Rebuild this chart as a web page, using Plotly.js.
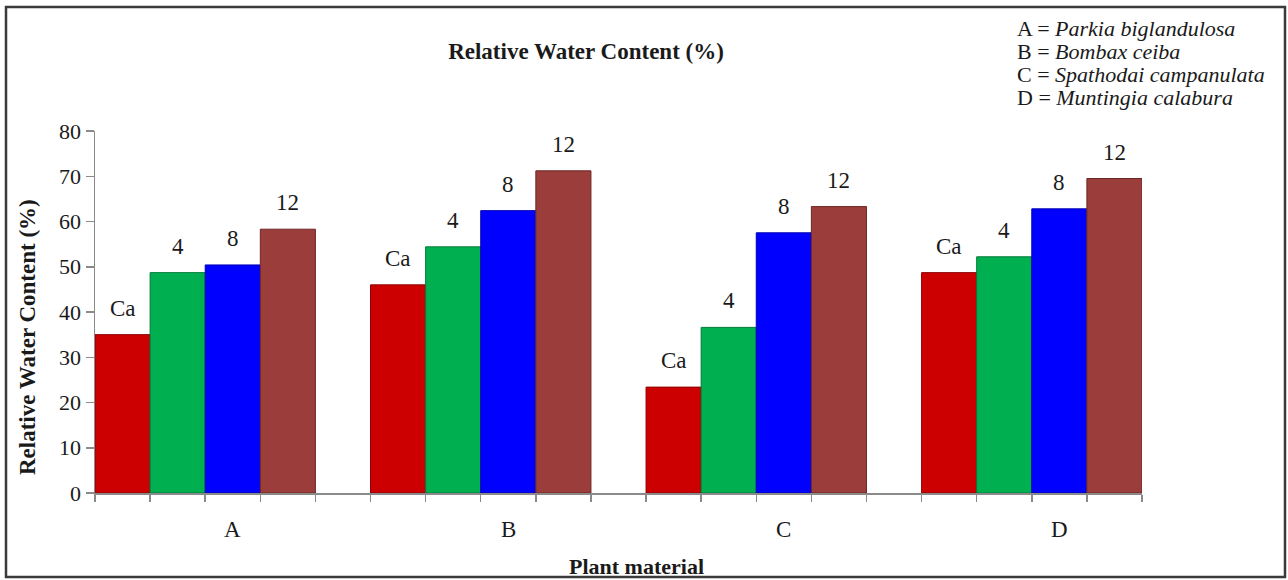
<!DOCTYPE html>
<html>
<head>
<meta charset="utf-8">
<script src="https://cdn.plot.ly/plotly-3.0.1.min.js"></script>
<style>
  html, body { margin: 0; padding: 0; background: #ffffff; }
  #chart { width: 1288px; height: 580px; }
</style>
</head>
<body>
<div id="chart"></div>
<script>
// Plant materials (x groups) and the treatment series drawn in each group
const groups = ['A', 'B', 'C', 'D'];
const seriesNames = ['Ca', '4', '8', '12'];
const caValues = [35.0, 46.0, 23.4, 48.7];
const t4Values = [48.7, 54.4, 36.6, 52.2];
const t8Values = [50.4, 62.4, 57.5, 62.8];
const t12Values = [58.3, 71.2, 63.3, 69.5];
const seriesColors = ['#CC0000', '#00B050', '#0000FF', '#9B3D3A'];
const edgeColors = ['#8E0000', '#007A38', '#0000B0', '#6B2826'];
const speciesNames = ['Parkia biglandulosa', 'Bombax ceiba', 'Spathodai campanulata', 'Muntingia calabura'];
const yTicks = [0, 10, 20, 30, 40, 50, 60, 70, 80];

const seriesValues = [caValues, t4Values, t8Values, t12Values];
const serif = 'Liberation Serif, Times New Roman, serif';
const ink = '#1a1a1a';
const axisGrey = '#8a8a8a';

// each group takes 4 bar slots plus one empty slot before the next group
const slotsPerGroup = seriesNames.length + 1;
const barX = (g, s) => g * slotsPerGroup + s + 0.5;

const traces = seriesNames.map((name, s) => ({
  type: 'bar',
  name: name,
  x: groups.map((_, g) => barX(g, s)),
  y: seriesValues[s],
  width: 1,
  marker: { color: seriesColors[s], line: { color: edgeColors[s], width: 1 } },
  hoverinfo: 'y+name',
  showlegend: false
}));

const annotations = [];

// series name above every bar
seriesNames.forEach((name, s) => {
  groups.forEach((_, g) => {
    annotations.push({
      x: barX(g, s), y: seriesValues[s][g], xref: 'x', yref: 'y',
      text: name, showarrow: false, yanchor: 'bottom', yshift: 12,
      font: { family: serif, size: 23, color: ink }
    });
  });
});

// group labels under the axis
groups.forEach((lab, g) => {
  annotations.push({
    x: g * slotsPerGroup + 2.5, y: -0.102, xref: 'x', yref: 'paper',
    text: lab, showarrow: false, xanchor: 'center', yanchor: 'middle',
    font: { family: serif, size: 23, color: ink }
  });
});

// key of plant material letters
speciesNames.forEach((sp, i) => {
  annotations.push({
    x: 0.8787, y: (493 - (29 + i * 22.7)) / 362, xref: 'paper', yref: 'paper',
    text: groups[i] + ' = <i>' + sp + '</i>', showarrow: false,
    xanchor: 'left', yanchor: 'middle',
    font: { family: serif, size: 22, color: ink }
  });
});

// axis titles
annotations.push({
  x: (27 - 95) / 1047, y: (493 - 337) / 362, xref: 'paper', yref: 'paper',
  text: '<b>Relative Water Content (%)</b>', textangle: -90, showarrow: false,
  xanchor: 'center', yanchor: 'middle',
  font: { family: serif, size: 23, color: ink }
});
annotations.push({
  x: (636 - 95) / 1047, y: (493 - 566) / 362, xref: 'paper', yref: 'paper',
  text: '<b>Plant material</b>', showarrow: false,
  xanchor: 'center', yanchor: 'middle',
  font: { family: serif, size: 22, color: ink }
});

const layout = {
  width: 1288, height: 580,
  margin: { l: 95, r: 146, t: 131, b: 87 },
  paper_bgcolor: '#ffffff', plot_bgcolor: '#ffffff',
  barmode: 'overlay',
  title: {
    text: '<b>Relative Water Content (%)</b>',
    xref: 'paper', x: (586 - 95) / 1047, xanchor: 'center',
    yref: 'container', y: 1 - 51 / 580, yanchor: 'middle',
    font: { family: serif, size: 23, color: ink }
  },
  xaxis: {
    range: [0, groups.length * slotsPerGroup - 1],
    tickmode: 'array',
    tickvals: Array.from({ length: groups.length * slotsPerGroup }, (_, k) => k),
    ticktext: Array.from({ length: groups.length * slotsPerGroup }, () => ''),
    ticks: 'outside', ticklen: 7, tickwidth: 1.5, tickcolor: axisGrey,
    showline: true, linecolor: axisGrey, linewidth: 1.5,
    showgrid: false, zeroline: false, fixedrange: true
  },
  yaxis: {
    range: [0, 80],
    tickmode: 'array', tickvals: yTicks, ticktext: yTicks.map(String),
    ticks: 'outside', ticklen: 8, tickwidth: 1.5, tickcolor: axisGrey,
    showline: true, linecolor: axisGrey, linewidth: 1.5,
    showgrid: false, zeroline: false, fixedrange: true,
    tickfont: { family: serif, size: 22, color: ink }
  },
  shapes: [{
    type: 'rect', xref: 'paper', yref: 'paper',
    x0: (6 - 95) / 1047, x1: (1285 - 95) / 1047,
    y0: (493 - 577) / 362, y1: (493 - 7) / 362,
    line: { color: '#3a3a3a', width: 2.5 }, fillcolor: 'rgba(0,0,0,0)'
  }],
  annotations: annotations,
  showlegend: false
};

Plotly.newPlot('chart', traces, layout, { displayModeBar: false, staticPlot: true });
</script>
</body>
</html>
